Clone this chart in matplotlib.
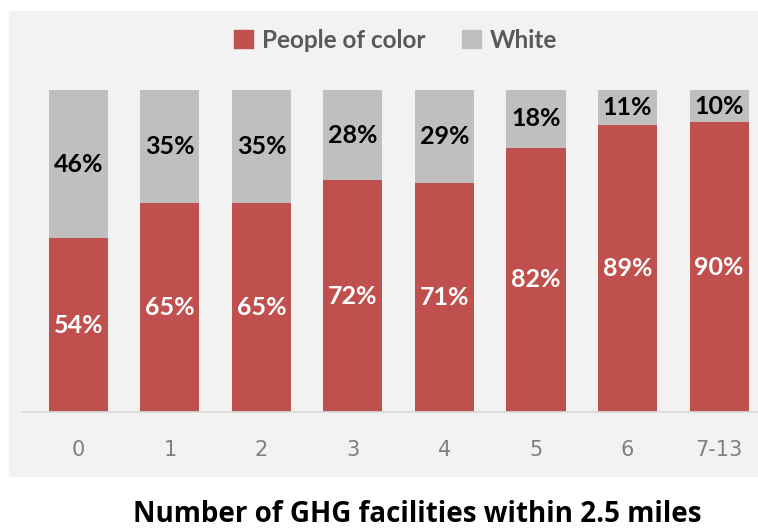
import matplotlib.pyplot as plt
from matplotlib.patches import Rectangle, Patch

# data
categories = ['0', '1', '2', '3', '4', '5', '6', '7-13']
people_of_color = [54, 65, 65, 72, 71, 82, 89, 90]
white = [46, 35, 35, 28, 29, 18, 11, 10]

red = '#C0504D'
grey = '#BFBFBF'

fig = plt.figure(figsize=(7.58, 5.29), dpi=100)
fig.patch.set_facecolor('white')

# light grey chart panel
fig.patches.append(Rectangle((9 / 758, 52 / 529), 1 - 9 / 758, 466 / 529,
                             transform=fig.transFigure, facecolor='#F2F2F2',
                             edgecolor='none', zorder=-10))

ax = fig.add_axes([22 / 758, 117 / 529, 736 / 758, 322 / 529])
ax.set_facecolor('none')

x = range(len(categories))
ax.bar(x, people_of_color, width=0.645, color=red, label='People of color')
ax.bar(x, white, width=0.645, bottom=people_of_color, color=grey, label='White')

for i in x:
    ax.text(i, people_of_color[i] / 2, f'{people_of_color[i]}%', ha='center', va='center',
            color='white', fontsize=18, fontweight='bold', family='Lato')
    ax.text(i, people_of_color[i] + white[i] / 2, f'{white[i]}%', ha='center', va='center',
            color='black', fontsize=18, fontweight='bold', family='Lato')

ax.set_xlim(-0.617, 7.426)
ax.set_ylim(0, 100)
ax.set_xticks(list(x))
ax.set_xticklabels(categories, color='#7F7F7F', fontsize=15, family='Liberation Sans Narrow')
ax.tick_params(axis='x', length=0, pad=20)
ax.set_yticks([])
for s in ['top', 'right', 'left']:
    ax.spines[s].set_visible(False)
ax.spines['bottom'].set_color('#D9D9D9')
ax.spines['bottom'].set_linewidth(1.2)

handles = [Patch(color=red, label='People of color'), Patch(color=grey, label='White')]
fig.legend(handles=handles, loc='center', bbox_to_anchor=(396 / 758, 1 - 40 / 529), ncol=2,
           frameon=False, handlelength=0.75, handleheight=0.75, handletextpad=0.4,
           columnspacing=1.5, prop={'family': 'Lato', 'weight': 'bold', 'size': 17.5},
           labelcolor='#595959')

fig.text(417 / 758, 1 - 515 / 529, 'Number of GHG facilities within 2.5 miles',
         ha='center', va='center', fontsize=20, fontweight='bold', family='Open Sans')

fig.savefig('out.png', dpi=100)
